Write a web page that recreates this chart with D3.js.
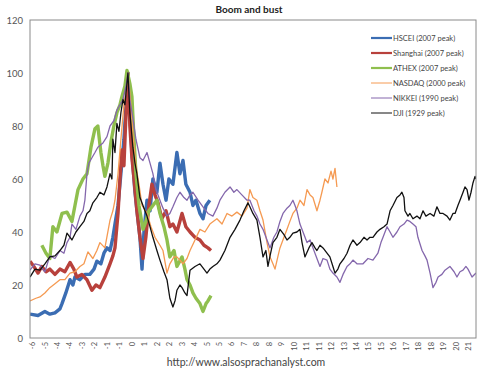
<!DOCTYPE html>
<html lang="en">
<head>
  <meta charset="UTF-8" />
  <title>Boom and bust</title>
  <script src="https://d3js.org/d3.v7.min.js"></script>
  <style>
    html, body {
      margin: 0;
      padding: 0;
      background-color: white;
      overflow: hidden;
      width: 500px;
      height: 372px;
    }
    svg text {
      font-family: Lato, "Open Sans", sans-serif;
    }
  </style>
</head>
<body>
  <svg id="chart" width="500" height="372"></svg>

  <script>
    // years from peak vs index (peak = 100)
    const hscei = [[-6.12,9],[-5.62,8.5],[-5.19,10],[-4.88,9],[-4.56,9.5],[-4.25,11],[-4.12,13],[-3.88,17],[-3.62,22],[-3.44,20],[-3.31,23],[-3.0,22],[-2.69,24],[-2.38,24],[-2.12,26],[-1.94,29],[-1.69,28],[-1.5,32],[-1.31,34],[-1.12,33],[-0.94,38],[-0.81,43],[-0.62,50],[-0.44,62],[-0.25,75],[-0.12,88],[0,100],[0.12,85],[0.25,70],[0.44,55],[0.62,45],[0.75,38],[0.88,26],[1.0,40],[1.19,52],[1.38,48],[1.56,60],[1.81,55],[2.0,66],[2.19,58],[2.38,52],[2.56,60],[2.81,58],[3.06,70],[3.25,62],[3.44,67],[3.62,58],[3.88,55],[4.06,50],[4.25,52],[4.5,47],[4.69,45],[4.88,50],[5.12,52]];
    const shanghai = [[-6.12,29],[-5.88,27],[-5.62,24.5],[-5.38,27],[-5.12,25],[-4.88,26],[-4.56,24],[-4.25,26],[-3.94,25],[-3.62,28.5],[-3.38,26],[-3.19,23],[-2.88,24],[-2.56,22],[-2.25,18],[-2.0,20],[-1.75,19],[-1.44,23],[-1.12,28],[-0.94,31],[-0.81,34],[-0.62,47],[-0.5,60],[-0.38,71],[-0.25,65],[-0.12,85],[0,100],[0.12,80],[0.25,68],[0.38,60],[0.56,48],[0.75,38],[0.94,30],[1.12,38],[1.31,50],[1.5,58],[1.69,54],[1.88,51],[2.12,45],[2.38,48],[2.62,42],[2.81,43],[3.06,40],[3.38,47],[3.62,42],[3.88,40],[4.19,38],[4.5,37],[4.75,35],[5.0,34],[5.19,33]];
    const athex = [[-5.38,35],[-5.12,32],[-4.88,30],[-4.69,42],[-4.44,40],[-4.12,47],[-3.81,47.5],[-3.5,44],[-3.31,50],[-3.12,56],[-2.81,60],[-2.56,62],[-2.31,72],[-2.06,79],[-1.88,80],[-1.69,70],[-1.56,65],[-1.44,61],[-1.25,66],[-1.06,74],[-0.88,80],[-0.69,85],[-0.5,88],[-0.38,91],[-0.19,95],[-0.06,101],[0.12,96],[0.25,91],[0.38,75],[0.5,62],[0.69,50],[0.94,41],[1.12,44],[1.31,48],[1.56,50],[1.81,52],[2.0,47],[2.25,42],[2.44,37],[2.62,30.6],[2.88,33],[3.06,27],[3.38,30.6],[3.56,26],[3.69,22],[3.88,20],[4.06,17],[4.25,15],[4.5,13],[4.69,10],[4.88,13],[5.0,14],[5.19,16]];
    const nasdaq = [[-6.12,14],[-5.75,15],[-5.5,15.5],[-5.19,17],[-4.88,19],[-4.56,20.5],[-4.25,22],[-3.94,22],[-3.62,24.5],[-3.31,25],[-3.0,27],[-2.75,28],[-2.5,32.5],[-2.19,30],[-1.94,33],[-1.75,36],[-1.44,34],[-1.12,44.5],[-0.94,48],[-0.81,52],[-0.62,62],[-0.44,75],[-0.25,88],[-0.12,93],[0,100],[0.19,88],[0.31,77],[0.5,65],[0.69,58],[0.88,50],[1.19,47],[1.44,42],[1.69,38],[2.0,35],[2.19,33],[2.44,24.5],[2.62,28],[2.88,30.6],[3.06,30.6],[3.44,28],[3.69,30],[3.88,33],[4.19,37],[4.5,41],[4.81,40],[5.12,43],[5.56,45],[5.88,43],[6.19,47],[6.5,46],[6.81,47.5],[7.12,46],[7.44,49],[7.62,56],[7.81,53],[8.06,52],[8.25,48],[8.44,44.5],[8.69,36],[8.88,30.6],[9.06,28],[9.19,26],[9.38,31],[9.5,34],[9.75,38],[9.94,41],[10.12,44],[10.31,47],[10.56,49],[10.75,52],[11.0,50],[11.19,56],[11.38,54],[11.56,53],[11.81,48],[12.0,52],[12.12,55],[12.31,60],[12.5,58.5],[12.69,63],[12.81,60],[12.94,64],[13.06,57]];
    const nikkei = [[-6.12,25.6],[-5.81,28],[-5.5,27.5],[-5.19,25],[-4.88,31],[-4.56,30],[-4.25,33],[-4.0,32],[-3.81,36],[-3.62,38],[-3.5,43],[-3.25,41],[-3.0,46],[-2.81,48],[-2.69,52],[-2.56,62],[-2.44,66],[-2.25,68],[-2.06,70],[-1.88,72],[-1.56,73.6],[-1.31,76],[-1.12,80],[-0.88,82],[-0.69,86],[-0.5,88],[-0.31,90],[-0.12,95],[0,100],[0.12,90],[0.31,83],[0.5,75],[0.75,68],[0.94,67],[1.19,70],[1.38,66],[1.56,62],[1.75,56],[2.0,52],[2.19,49],[2.44,46],[2.62,47],[2.81,49.5],[3.06,53],[3.25,55],[3.5,53],[3.69,52],[3.88,54],[4.06,55],[4.38,52],[4.69,49.5],[5.0,47],[5.31,46],[5.56,49],[5.75,52],[6.06,55],[6.38,57],[6.62,55],[6.81,56],[7.12,54],[7.44,52],[7.62,52],[7.88,48],[8.06,46],[8.25,43],[8.44,41],[8.69,37],[8.88,34],[9.12,38],[9.31,40],[9.5,44],[9.69,47],[9.94,49],[10.12,50],[10.31,52],[10.44,50],[10.56,48],[10.75,43],[10.94,40],[11.19,36],[11.38,37],[11.56,34],[11.81,30],[12.0,27],[12.19,30],[12.44,29.4],[12.62,26],[12.81,24.5],[13.06,23],[13.25,21],[13.44,24],[13.69,27],[13.88,28],[14.06,29.4],[14.31,28],[14.69,28],[15.0,30],[15.31,29.4],[15.5,31],[15.62,32],[15.81,36],[15.94,38],[16.19,42],[16.38,40],[16.56,38],[16.81,40],[17.0,42],[17.25,43],[17.44,44.5],[17.62,44],[17.81,43],[18.0,42],[18.12,38],[18.38,33],[18.56,31],[18.69,29.4],[18.88,24.5],[19.06,19],[19.25,21],[19.38,23],[19.62,24],[19.81,25.6],[20.12,27],[20.38,25],[20.56,23],[20.75,25],[20.94,25.6],[21.12,27],[21.25,26],[21.5,23],[21.75,24.5]];
    const dji = [[-6.12,23],[-5.81,26],[-5.5,25.6],[-5.19,28],[-4.88,30.6],[-4.56,31],[-4.25,33],[-4.0,35],[-3.81,39.6],[-3.5,37],[-3.25,40],[-3.0,42],[-2.75,44],[-2.56,47],[-2.38,48],[-2.19,51],[-1.94,53],[-1.75,55],[-1.5,54],[-1.31,57],[-1.12,62],[-1.0,60],[-0.94,75],[-0.81,70],[-0.69,81],[-0.56,78],[-0.44,85],[-0.31,90],[-0.19,88],[0,100],[0.12,85],[0.31,72],[0.44,66],[0.56,62],[0.75,53],[0.94,50],[1.19,46],[1.38,42],[1.56,38],[1.81,33],[2.0,29.4],[2.25,25],[2.44,22],[2.62,15],[2.81,11.7],[2.94,14],[3.06,18],[3.25,20],[3.38,19],[3.56,17],[3.69,16],[3.88,25.6],[4.19,27],[4.5,28],[4.75,26],[4.94,24.5],[5.12,26],[5.31,27],[5.56,28],[5.75,29.4],[6.06,33],[6.38,38],[6.69,41],[7.0,44.5],[7.25,48],[7.5,51],[7.62,49.5],[7.81,47],[8.06,44.5],[8.25,38],[8.44,30.6],[8.62,33],[8.75,27],[8.88,31],[9.06,36],[9.31,38],[9.5,41],[9.75,39],[9.94,37],[10.12,38],[10.31,39.6],[10.56,40],[10.75,41],[10.88,36],[11.06,30.6],[11.31,34],[11.5,36],[11.69,34],[11.81,33],[12.0,35],[12.19,34],[12.44,32],[12.62,30.6],[12.81,27],[12.94,24.5],[13.12,26],[13.25,28],[13.5,30],[13.69,32],[13.88,35],[14.06,37],[14.31,35],[14.5,36],[14.75,38],[14.94,37],[15.12,38],[15.31,38],[15.56,40],[15.75,41],[16.0,42],[16.19,43],[16.38,48],[16.56,50],[16.81,53],[17.0,54],[17.12,55],[17.25,53],[17.31,48],[17.5,46],[17.62,47],[17.81,45],[18.06,46],[18.25,45],[18.44,48],[18.62,46],[18.88,47],[19.12,46],[19.31,49.5],[19.5,47],[19.69,47],[19.94,46],[20.12,44.5],[20.31,47],[20.44,47],[20.62,50],[20.75,52],[20.94,55],[21.06,57],[21.19,56],[21.31,52],[21.44,55],[21.56,58.5],[21.69,61],[21.75,60]];

    const seriesNames = ["HSCEI (2007 peak)", "Shanghai (2007 peak)", "ATHEX (2007 peak)", "NASDAQ (2000 peak)", "NIKKEI (1990 peak)", "DJI (1929 peak)"];
    const seriesData = [hscei, shanghai, athex, nasdaq, nikkei, dji];
    const seriesColors = ["#3b6db3", "#b8413c", "#8fbf4e", "#f59a52", "#8467ac", "#111111"];
    const seriesWidths = [3.4, 3.4, 3.4, 1.3, 1.3, 1.3];

    const xTickLabels = ["-6","-5","-4","-4","-3","-2","-1","-1","0","1","2","2","3","4","5","5","6","7","8","8","9","10","11","11","12","13","14","15","15","16","17","18","18","19","20","21"];
    const yTicks = [0, 20, 40, 60, 80, 100, 120];

    const plot = { left: 30, right: 476, top: 20, bottom: 338 };
    const svg = d3.select("#chart");

    const x = d3.scaleLinear().domain([-6.12, 21.75]).range([plot.left, plot.right]);
    const y = d3.scaleLinear().domain([0, 120]).range([plot.bottom, plot.top]);
    const xCat = d3.scalePoint().domain(d3.range(xTickLabels.length)).range([32, 468]);

    // title
    svg.append("text")
      .attr("x", 249)
      .attr("y", 13)
      .attr("text-anchor", "middle")
      .style("font-size", "10px")
      .style("font-weight", "bold")
      .attr("fill", "#222")
      .text("Boom and bust");

    // y axis labels
    const yAxis = svg.append("g")
      .attr("transform", `translate(${plot.left},0)`)
      .call(d3.axisLeft(y).tickValues(yTicks).tickSize(0).tickPadding(7));
    yAxis.select(".domain").remove();
    yAxis.selectAll("text")
      .style("font-size", "9.5px")
      .style("font-family", "Lato, sans-serif")
      .attr("fill", "#555");

    // x axis labels (category style, rotated)
    const xAxis = svg.append("g")
      .attr("transform", `translate(0,${plot.bottom})`)
      .call(d3.axisBottom(xCat).tickSize(0).tickFormat(i => xTickLabels[i]));
    xAxis.select(".domain").remove();
    xAxis.selectAll("text")
      .attr("transform", "rotate(-90)")
      .attr("text-anchor", "end")
      .attr("x", -4)
      .attr("y", 0)
      .attr("dy", "0.35em")
      .style("font-size", "7.5px")
      .style("font-family", "Lato, sans-serif")
      .attr("fill", "#555");

    svg.append("clipPath").attr("id", "plotclip")
      .append("rect")
      .attr("x", plot.left).attr("y", plot.top)
      .attr("width", plot.right - plot.left).attr("height", plot.bottom - plot.top);

    const line = d3.line()
      .x(d => x(d[0]))
      .y(d => y(d[1]));

    svg.append("g")
      .attr("clip-path", "url(#plotclip)")
      .selectAll("path")
      .data(seriesData)
      .join("path")
      .attr("d", line)
      .attr("fill", "none")
      .attr("stroke", (d, i) => seriesColors[i])
      .attr("stroke-width", (d, i) => seriesWidths[i])
      .attr("stroke-linejoin", "round");

    // plot frame
    svg.append("rect")
      .attr("x", plot.left)
      .attr("y", plot.top)
      .attr("width", plot.right - plot.left)
      .attr("height", plot.bottom - plot.top)
      .attr("fill", "none")
      .attr("stroke", "#8a8a8a")
      .attr("stroke-width", 1);

    // legend
    const legend = svg.append("g").attr("transform", "translate(371,38)");
    const rows = legend.selectAll("g")
      .data(seriesNames)
      .join("g")
      .attr("transform", (d, i) => `translate(0, ${i * 15})`);
    rows.append("line")
      .attr("x1", 0).attr("x2", 21)
      .attr("y1", 0).attr("y2", 0)
      .attr("stroke", (d, i) => seriesColors[i])
      .attr("stroke-width", (d, i) => seriesWidths[i] > 2 ? 2.2 : 1);
    rows.append("text")
      .attr("x", 22)
      .attr("y", 0)
      .attr("dy", "0.35em")
      .style("font-size", "7.5px")
      .attr("fill", "#444")
      .text(d => d);

    // source
    svg.append("text")
      .attr("x", 246)
      .attr("y", 366)
      .attr("text-anchor", "middle")
      .style("font-size", "10.5px")
      .attr("fill", "#444")
      .text("http://www.alsosprachanalyst.com");
  </script>
</body>
</html>
